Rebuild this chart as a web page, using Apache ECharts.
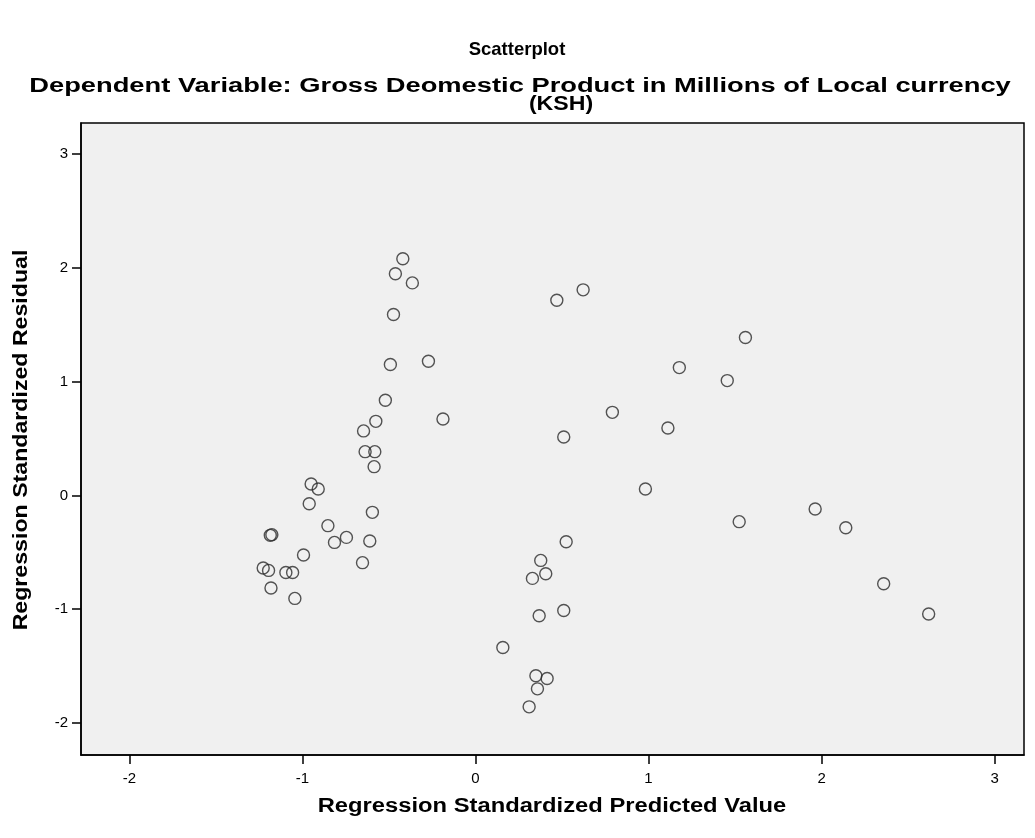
<!DOCTYPE html>
<html>
<head>
<meta charset="utf-8">
<script src="https://cdn.jsdelivr.net/npm/echarts@6/dist/echarts.min.js"></script>
<style>
  html, body { margin: 0; padding: 0; background: #ffffff; }
  #chart { width: 1035px; height: 838px; }
</style>
</head>
<body>
<div id="chart"></div>
<script>
// Regression standardized predicted values (x) and standardized residuals (y)
const predicted = [
  -0.420, -0.463, -0.365, -0.474, -0.492, -0.272, -0.521, -0.576, -0.647, -0.188,
  -0.638, -0.582, -0.586, -0.950, -0.909, -0.961, -0.596, -0.853, -1.186, -1.177,
  -0.815, -0.746, -0.611, -0.994, -0.653, -1.227, -1.196, -1.096, -1.057, -1.182,
  -1.044,  0.470,  0.622,  1.560,  1.178,  1.455,  0.791,  1.112,  0.510,  0.524,
   0.377,  0.406,  0.329,  0.510,  0.368,  0.158,  0.349,  0.414,  0.358,  0.310,
   0.982,  1.524,  1.963,  2.140,  2.359,  2.619
];
const residual = [
   2.078,  1.946,  1.866,  1.588,  1.149,  1.178,  0.835,  0.650,  0.566,  0.671,
   0.384,  0.384,  0.252,  0.100,  0.056, -0.073, -0.149, -0.266, -0.351, -0.345,
  -0.413, -0.369, -0.401, -0.524, -0.591, -0.638, -0.659, -0.677, -0.677, -0.814,
  -0.905,  1.714,  1.805,  1.386,  1.122,  1.008,  0.729,  0.592,  0.513, -0.407,
  -0.571, -0.688, -0.729, -1.011, -1.057, -1.336, -1.584, -1.608, -1.699, -1.857,
   0.056, -0.231, -0.120, -0.284, -0.776, -1.042
];

const xTicks = [-2, -1, 0, 1, 2, 3];
const yTicks = [-2, -1, 0, 1, 2, 3];

const chartTitle = 'Scatterplot';
const subTitle1 = 'Dependent Variable: Gross Deomestic Product in Millions of Local currency';
const subTitle2 = '(KSH)';
const xName = 'Regression Standardized Predicted Value';
const yName = 'Regression Standardized Residual';

const points = predicted.map((x, i) => [x, residual[i]]);

const SANS = '"Liberation Sans", Arial, sans-serif';

const chart = echarts.init(document.getElementById('chart'), null, { renderer: 'canvas' });

// Centered bold text, optionally widened (sx) and rotated
function heading(text, cx, cy, size, sx, rot) {
  return {
    type: 'text', x: cx, y: cy, scaleX: sx || 1, rotation: rot || 0, silent: true,
    style: {
      text: text, fill: '#000', align: 'center', verticalAlign: 'middle',
      font: 'bold ' + size + 'px ' + SANS
    }
  };
}

const axisCommon = {
  type: 'value',
  splitLine: { show: false },
  axisLine: { show: true, onZero: false, lineStyle: { color: '#000', width: 1.5 } },
  axisTick: { show: true, inside: false, length: 9, lineStyle: { color: '#000', width: 1.5 } },
  axisLabel: { fontFamily: SANS, fontSize: 15, color: '#000' }
};

chart.setOption({
  animation: false,
  backgroundColor: '#ffffff',
  graphic: [
    heading(chartTitle, 517, 50, 18.5, 1),
    heading(subTitle1, 520, 86, 20, 1.365),
    heading(subTitle2, 561, 104, 20, 1.155),
    heading(xName, 552, 807, 19.5, 1.218),
    heading(yName, 22, 440, 19.5, 1.187, Math.PI / 2)
  ],
  grid: {
    left: 81, right: 11, top: 123, bottom: 83,
    show: true, backgroundColor: '#f0f0f0', borderColor: '#000', borderWidth: 1.5
  },
  xAxis: Object.assign({}, axisCommon, {
    min: -2.28, max: 3.17,
    axisTick: Object.assign({}, axisCommon.axisTick, { customValues: xTicks }),
    axisLabel: Object.assign({}, axisCommon.axisLabel, { customValues: xTicks, margin: 16 })
  }),
  yAxis: Object.assign({}, axisCommon, {
    min: -2.28, max: 3.27,
    axisTick: Object.assign({}, axisCommon.axisTick, { customValues: yTicks }),
    axisLabel: Object.assign({}, axisCommon.axisLabel, { customValues: yTicks, margin: 13 })
  }),
  series: [{
    type: 'scatter',
    data: points,
    symbol: 'circle',
    symbolSize: 12,
    itemStyle: { color: 'rgba(0,0,0,0)', borderColor: '#2a2a2a', borderWidth: 1.4 },
    emphasis: { disabled: true }
  }]
});
</script>
</body>
</html>
